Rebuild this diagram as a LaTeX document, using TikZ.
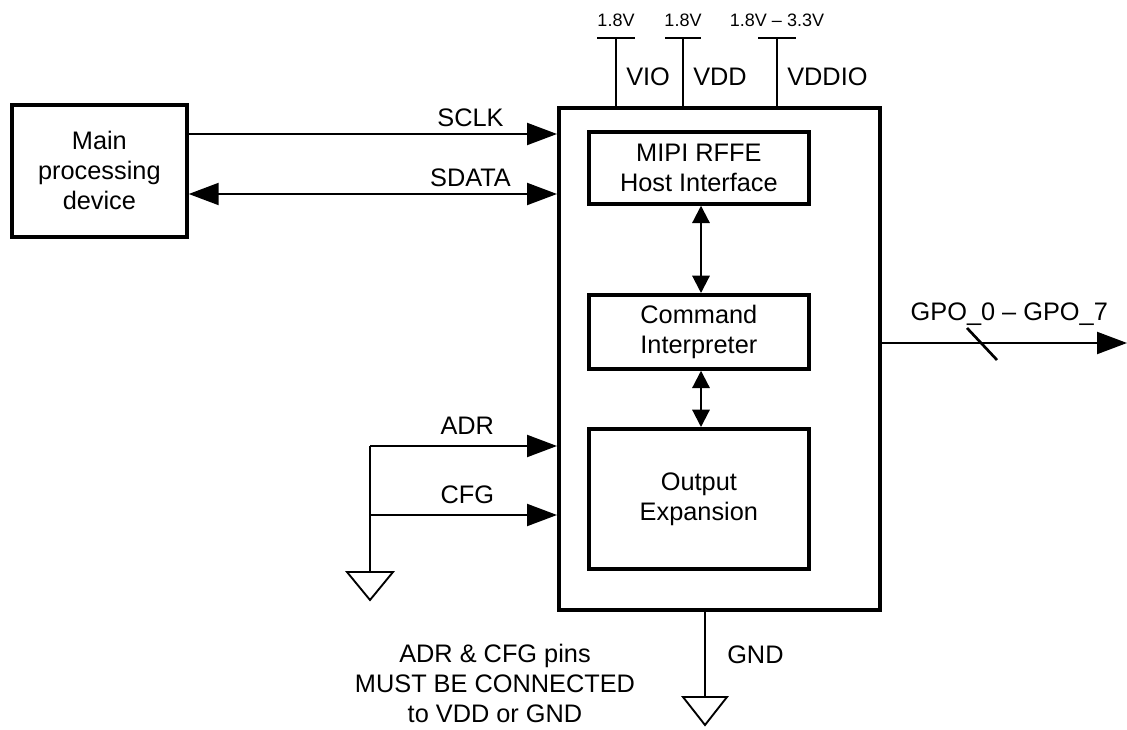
\documentclass[tikz,border=0pt]{standalone}
\usepackage{fontspec}
\setmainfont{Liberation Sans}
\usetikzlibrary{arrows.meta,calc}
\begin{document}
\begin{tikzpicture}[x=0.75pt,y=-0.75pt,
  blk/.style={draw,line width=2.8pt,inner sep=0pt,align=center,font=\fontsize{19}{22.5}\selectfont},
  sig/.style={line width=1.6pt},
  bigarrow/.style={sig,-{Triangle[length=22.5pt,width=16.5pt]}},
  bigboth/.style={sig,{Triangle[length=22.5pt,width=16.5pt]}-{Triangle[length=22.5pt,width=16.5pt]}},
  smallboth/.style={sig,{Triangle[length=13pt,width=13pt]}-{Triangle[length=13pt,width=13pt]}},
  lbl/.style={font=\fontsize{19}{22.5}\selectfont,inner sep=0pt},
  slbl/.style={font=\fontsize{13.5}{16}\selectfont,inner sep=0pt},
  gndtri/.style={line width=1.4pt,line join=miter}
]
\useasboundingbox (0,0) rectangle (1127,730);
% boxes
\node[blk,minimum width=175*0.75pt,minimum height=132*0.75pt,anchor=north west] (main) at (10,103) {Main\\processing\\device};
\node[blk,minimum width=321*0.75pt,minimum height=502*0.75pt,anchor=north west] (chip) at (557,106) {};
\node[blk,minimum width=220*0.75pt,minimum height=72*0.75pt,anchor=north west] (mipi) at (587,130) {MIPI RFFE\\Host Interface};
\node[blk,minimum width=220*0.75pt,minimum height=74*0.75pt,anchor=north west] (cmd) at (587,293) {Command\\Interpreter};
\node[blk,minimum width=220*0.75pt,minimum height=140*0.75pt,anchor=north west] (out) at (587,427) {Output\\Expansion};
% inner arrows
\draw[smallboth] (mipi.south -| 701,0) -- (cmd.north -| 701,0);
\draw[smallboth] (cmd.south -| 701,0) -- (out.north -| 701,0);
% SCLK / SDATA
\draw[bigarrow] (main.east |- 0,134) -- (chip.west |- 0,134) node[lbl,pos=0.765,above=5pt] {SCLK};
\draw[bigboth] (main.east |- 0,194) -- (chip.west |- 0,194) node[lbl,pos=0.765,above=5pt] {SDATA};
% power pins
\coordinate (vio) at (616,38);
\coordinate (vdd) at (683,38);
\coordinate (vddio) at (777,38);
\foreach \p/\t/\n/\w in {vio/1.8V/VIO/19,vdd/1.8V/VDD/18,vddio/{1.8V -- 3.3V}/VDDIO/19}{
  \draw[sig] (\p) -- (\p |- chip.north);
  \draw[sig] ($(\p)+(-\w,0)$) -- ($(\p)+(\w,0)$);
  \node[slbl,above=8pt] at (\p) {\t};
  \node[lbl,anchor=west] at ($(\p |- 0,77)+(10,0)$) {\n};
}
% GPO
\coordinate (gpoend) at (1127,343);
\draw[bigarrow] (chip.east |- gpoend) -- (gpoend) node[lbl,pos=0.52,above=12pt] {GPO\_0 -- GPO\_7};
\draw[line width=2pt] (967,328) -- (997,360);
% ADR / CFG
\coordinate (gj) at (370,572);
\draw[bigarrow] (370,446) -- (chip.west |- 0,446) node[lbl,pos=0.52,above=8pt] {ADR};
\draw[bigarrow] (370,515) -- (chip.west |- 0,515) node[lbl,pos=0.52,above=8pt] {CFG};
\draw[sig] (370,446) -- (gj);
\draw[gndtri] (347,572) -- (393,572) -- (370,600) -- cycle;
% GND
\coordinate (gj2) at (705,697);
\draw[sig] (chip.south -| gj2) -- (gj2);
\draw[gndtri] (683,697) -- (727,697) -- (705,725) -- cycle;
\node[lbl,anchor=west] at (727,655) {GND};
% note
\node[lbl,align=center] at (495,683) {ADR \& CFG pins\\MUST BE CONNECTED\\to VDD or GND};
\end{tikzpicture}
\end{document}
